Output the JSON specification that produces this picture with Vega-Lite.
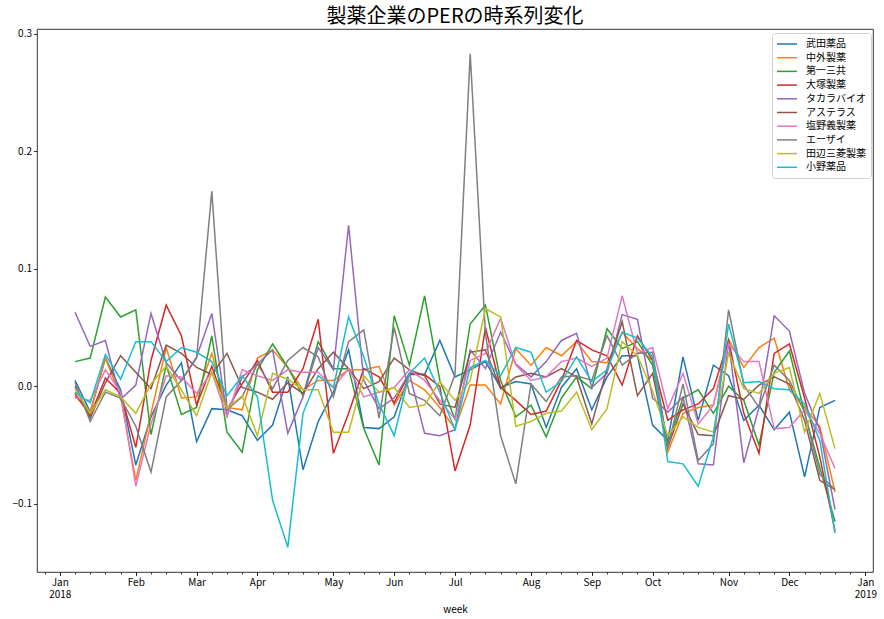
{
"$schema": "https://vega.github.io/schema/vega-lite/v6.json",
"width": 836, "height": 543,
"autosize": {"type": "none"},
"padding": {"left": 37, "top": 29, "right": 11, "bottom": 47},
"background": "white",
"title": {"text": "製薬企業のPERの時系列変化", "fontSize": 20, "font": "Noto Sans CJK JP", "fontWeight": "normal", "color": "black", "offset": 2},
"config": {"view": {"stroke": "black", "strokeWidth": 0.8}, "font": "Noto Sans CJK JP",
 "axis": {"grid": false, "domain": false, "tickColor": "black", "tickWidth": 0.8, "labelColor": "black", "labelFontSize": 10, "labelFont": "Noto Sans CJK JP", "titleFont": "Noto Sans CJK JP", "titleFontSize": 10, "titleFontWeight": "normal", "titleColor": "black"}},
"datasets": {"d": [
{"week":"2018-01-08","company":"武田薬品","PER":0.005},{"week":"2018-01-15","company":"武田薬品","PER":-0.022},{"week":"2018-01-22","company":"武田薬品","PER":0.024},{"week":"2018-01-29","company":"武田薬品","PER":-0.003},{"week":"2018-02-05","company":"武田薬品","PER":-0.067},{"week":"2018-02-12","company":"武田薬品","PER":-0.026},{"week":"2018-02-19","company":"武田薬品","PER":0.001},{"week":"2018-02-26","company":"武田薬品","PER":0.020},{"week":"2018-03-05","company":"武田薬品","PER":-0.047},{"week":"2018-03-12","company":"武田薬品","PER":-0.019},{"week":"2018-03-19","company":"武田薬品","PER":-0.020},{"week":"2018-03-26","company":"武田薬品","PER":-0.025},{"week":"2018-04-02","company":"武田薬品","PER":-0.046},{"week":"2018-04-09","company":"武田薬品","PER":-0.033},{"week":"2018-04-16","company":"武田薬品","PER":0.008},{"week":"2018-04-23","company":"武田薬品","PER":-0.071},{"week":"2018-04-30","company":"武田薬品","PER":-0.030},{"week":"2018-05-07","company":"武田薬品","PER":-0.005},{"week":"2018-05-14","company":"武田薬品","PER":0.031},{"week":"2018-05-21","company":"武田薬品","PER":-0.035},{"week":"2018-05-28","company":"武田薬品","PER":-0.036},{"week":"2018-06-04","company":"武田薬品","PER":-0.026},{"week":"2018-06-11","company":"武田薬品","PER":0.010},{"week":"2018-06-18","company":"武田薬品","PER":0.010},{"week":"2018-06-25","company":"武田薬品","PER":0.039},{"week":"2018-07-02","company":"武田薬品","PER":0.008},{"week":"2018-07-09","company":"武田薬品","PER":0.014},{"week":"2018-07-16","company":"武田薬品","PER":0.021},{"week":"2018-07-23","company":"武田薬品","PER":-0.001},{"week":"2018-07-30","company":"武田薬品","PER":0.004},{"week":"2018-08-06","company":"武田薬品","PER":0.002},{"week":"2018-08-13","company":"武田薬品","PER":-0.035},{"week":"2018-08-20","company":"武田薬品","PER":-0.001},{"week":"2018-08-27","company":"武田薬品","PER":0.015},{"week":"2018-09-03","company":"武田薬品","PER":-0.020},{"week":"2018-09-10","company":"武田薬品","PER":0.008},{"week":"2018-09-17","company":"武田薬品","PER":0.026},{"week":"2018-09-24","company":"武田薬品","PER":0.026},{"week":"2018-10-01","company":"武田薬品","PER":-0.033},{"week":"2018-10-08","company":"武田薬品","PER":-0.046},{"week":"2018-10-15","company":"武田薬品","PER":0.025},{"week":"2018-10-22","company":"武田薬品","PER":-0.029},{"week":"2018-10-29","company":"武田薬品","PER":0.018},{"week":"2018-11-05","company":"武田薬品","PER":0.009},{"week":"2018-11-12","company":"武田薬品","PER":-0.029},{"week":"2018-11-19","company":"武田薬品","PER":-0.016},{"week":"2018-11-26","company":"武田薬品","PER":-0.037},{"week":"2018-12-03","company":"武田薬品","PER":-0.022},{"week":"2018-12-10","company":"武田薬品","PER":-0.077},{"week":"2018-12-17","company":"武田薬品","PER":-0.018},{"week":"2018-12-24","company":"武田薬品","PER":-0.012},
{"week":"2018-01-08","company":"中外製薬","PER":-0.008},{"week":"2018-01-15","company":"中外製薬","PER":-0.022},{"week":"2018-01-22","company":"中外製薬","PER":0.024},{"week":"2018-01-29","company":"中外製薬","PER":-0.009},{"week":"2018-02-05","company":"中外製薬","PER":-0.080},{"week":"2018-02-12","company":"中外製薬","PER":-0.023},{"week":"2018-02-19","company":"中外製薬","PER":0.033},{"week":"2018-02-26","company":"中外製薬","PER":-0.010},{"week":"2018-03-05","company":"中外製薬","PER":-0.009},{"week":"2018-03-12","company":"中外製薬","PER":0.028},{"week":"2018-03-19","company":"中外製薬","PER":-0.018},{"week":"2018-03-26","company":"中外製薬","PER":-0.020},{"week":"2018-04-02","company":"中外製薬","PER":0.024},{"week":"2018-04-09","company":"中外製薬","PER":0.031},{"week":"2018-04-16","company":"中外製薬","PER":0.016},{"week":"2018-04-23","company":"中外製薬","PER":-0.003},{"week":"2018-04-30","company":"中外製薬","PER":0.005},{"week":"2018-05-07","company":"中外製薬","PER":0.005},{"week":"2018-05-14","company":"中外製薬","PER":0.014},{"week":"2018-05-21","company":"中外製薬","PER":0.014},{"week":"2018-05-28","company":"中外製薬","PER":0.017},{"week":"2018-06-04","company":"中外製薬","PER":-0.016},{"week":"2018-06-11","company":"中外製薬","PER":0.005},{"week":"2018-06-18","company":"中外製薬","PER":-0.003},{"week":"2018-06-25","company":"中外製薬","PER":-0.018},{"week":"2018-07-02","company":"中外製薬","PER":-0.036},{"week":"2018-07-09","company":"中外製薬","PER":0.001},{"week":"2018-07-16","company":"中外製薬","PER":0.001},{"week":"2018-07-23","company":"中外製薬","PER":-0.015},{"week":"2018-07-30","company":"中外製薬","PER":0.032},{"week":"2018-08-06","company":"中外製薬","PER":0.018},{"week":"2018-08-13","company":"中外製薬","PER":0.033},{"week":"2018-08-20","company":"中外製薬","PER":0.026},{"week":"2018-08-27","company":"中外製薬","PER":0.038},{"week":"2018-09-03","company":"中外製薬","PER":0.021},{"week":"2018-09-10","company":"中外製薬","PER":0.020},{"week":"2018-09-17","company":"中外製薬","PER":0.046},{"week":"2018-09-24","company":"中外製薬","PER":0.032},{"week":"2018-10-01","company":"中外製薬","PER":0.022},{"week":"2018-10-08","company":"中外製薬","PER":-0.056},{"week":"2018-10-15","company":"中外製薬","PER":-0.023},{"week":"2018-10-22","company":"中外製薬","PER":-0.018},{"week":"2018-10-29","company":"中外製薬","PER":-0.016},{"week":"2018-11-05","company":"中外製薬","PER":0.040},{"week":"2018-11-12","company":"中外製薬","PER":0.016},{"week":"2018-11-19","company":"中外製薬","PER":0.033},{"week":"2018-11-26","company":"中外製薬","PER":0.041},{"week":"2018-12-03","company":"中外製薬","PER":-0.003},{"week":"2018-12-10","company":"中外製薬","PER":-0.018},{"week":"2018-12-17","company":"中外製薬","PER":-0.034},{"week":"2018-12-24","company":"中外製薬","PER":-0.090},
{"week":"2018-01-08","company":"第一三共","PER":0.021},{"week":"2018-01-15","company":"第一三共","PER":0.024},{"week":"2018-01-22","company":"第一三共","PER":0.076},{"week":"2018-01-29","company":"第一三共","PER":0.059},{"week":"2018-02-05","company":"第一三共","PER":0.065},{"week":"2018-02-12","company":"第一三共","PER":-0.041},{"week":"2018-02-19","company":"第一三共","PER":0.018},{"week":"2018-02-26","company":"第一三共","PER":-0.024},{"week":"2018-03-05","company":"第一三共","PER":-0.018},{"week":"2018-03-12","company":"第一三共","PER":0.043},{"week":"2018-03-19","company":"第一三共","PER":-0.039},{"week":"2018-03-26","company":"第一三共","PER":-0.056},{"week":"2018-04-02","company":"第一三共","PER":0.014},{"week":"2018-04-09","company":"第一三共","PER":0.036},{"week":"2018-04-16","company":"第一三共","PER":0.016},{"week":"2018-04-23","company":"第一三共","PER":-0.008},{"week":"2018-04-30","company":"第一三共","PER":0.038},{"week":"2018-05-07","company":"第一三共","PER":0.015},{"week":"2018-05-14","company":"第一三共","PER":0.015},{"week":"2018-05-21","company":"第一三共","PER":-0.036},{"week":"2018-05-28","company":"第一三共","PER":-0.067},{"week":"2018-06-04","company":"第一三共","PER":0.060},{"week":"2018-06-11","company":"第一三共","PER":0.018},{"week":"2018-06-18","company":"第一三共","PER":0.077},{"week":"2018-06-25","company":"第一三共","PER":0.005},{"week":"2018-07-02","company":"第一三共","PER":-0.028},{"week":"2018-07-09","company":"第一三共","PER":0.053},{"week":"2018-07-16","company":"第一三共","PER":0.069},{"week":"2018-07-23","company":"第一三共","PER":0.005},{"week":"2018-07-30","company":"第一三共","PER":-0.026},{"week":"2018-08-06","company":"第一三共","PER":-0.016},{"week":"2018-08-13","company":"第一三共","PER":-0.043},{"week":"2018-08-20","company":"第一三共","PER":-0.010},{"week":"2018-08-27","company":"第一三共","PER":0.008},{"week":"2018-09-03","company":"第一三共","PER":-0.002},{"week":"2018-09-10","company":"第一三共","PER":0.049},{"week":"2018-09-17","company":"第一三共","PER":0.032},{"week":"2018-09-24","company":"第一三共","PER":0.038},{"week":"2018-10-01","company":"第一三共","PER":0.018},{"week":"2018-10-08","company":"第一三共","PER":-0.049},{"week":"2018-10-15","company":"第一三共","PER":-0.010},{"week":"2018-10-22","company":"第一三共","PER":-0.003},{"week":"2018-10-29","company":"第一三共","PER":-0.023},{"week":"2018-11-05","company":"第一三共","PER":0.000},{"week":"2018-11-12","company":"第一三共","PER":-0.012},{"week":"2018-11-19","company":"第一三共","PER":-0.050},{"week":"2018-11-26","company":"第一三共","PER":0.012},{"week":"2018-12-03","company":"第一三共","PER":0.030},{"week":"2018-12-10","company":"第一三共","PER":-0.023},{"week":"2018-12-17","company":"第一三共","PER":-0.069},{"week":"2018-12-24","company":"第一三共","PER":-0.115},
{"week":"2018-01-08","company":"大塚製薬","PER":-0.006},{"week":"2018-01-15","company":"大塚製薬","PER":-0.025},{"week":"2018-01-22","company":"大塚製薬","PER":0.007},{"week":"2018-01-29","company":"大塚製薬","PER":-0.006},{"week":"2018-02-05","company":"大塚製薬","PER":-0.052},{"week":"2018-02-12","company":"大塚製薬","PER":0.022},{"week":"2018-02-19","company":"大塚製薬","PER":0.069},{"week":"2018-02-26","company":"大塚製薬","PER":0.043},{"week":"2018-03-05","company":"大塚製薬","PER":-0.016},{"week":"2018-03-12","company":"大塚製薬","PER":0.017},{"week":"2018-03-19","company":"大塚製薬","PER":-0.020},{"week":"2018-03-26","company":"大塚製薬","PER":0.002},{"week":"2018-04-02","company":"大塚製薬","PER":0.022},{"week":"2018-04-09","company":"大塚製薬","PER":-0.005},{"week":"2018-04-16","company":"大塚製薬","PER":-0.005},{"week":"2018-04-23","company":"大塚製薬","PER":0.015},{"week":"2018-04-30","company":"大塚製薬","PER":0.057},{"week":"2018-05-07","company":"大塚製薬","PER":-0.057},{"week":"2018-05-14","company":"大塚製薬","PER":-0.023},{"week":"2018-05-21","company":"大塚製薬","PER":0.015},{"week":"2018-05-28","company":"大塚製薬","PER":0.008},{"week":"2018-06-04","company":"大塚製薬","PER":-0.014},{"week":"2018-06-11","company":"大塚製薬","PER":0.011},{"week":"2018-06-18","company":"大塚製薬","PER":0.010},{"week":"2018-06-25","company":"大塚製薬","PER":0.000},{"week":"2018-07-02","company":"大塚製薬","PER":-0.072},{"week":"2018-07-09","company":"大塚製薬","PER":-0.033},{"week":"2018-07-16","company":"大塚製薬","PER":0.050},{"week":"2018-07-23","company":"大塚製薬","PER":-0.001},{"week":"2018-07-30","company":"大塚製薬","PER":-0.012},{"week":"2018-08-06","company":"大塚製薬","PER":-0.024},{"week":"2018-08-13","company":"大塚製薬","PER":-0.021},{"week":"2018-08-20","company":"大塚製薬","PER":0.005},{"week":"2018-08-27","company":"大塚製薬","PER":0.039},{"week":"2018-09-03","company":"大塚製薬","PER":0.031},{"week":"2018-09-10","company":"大塚製薬","PER":0.026},{"week":"2018-09-17","company":"大塚製薬","PER":0.001},{"week":"2018-09-24","company":"大塚製薬","PER":0.043},{"week":"2018-10-01","company":"大塚製薬","PER":0.022},{"week":"2018-10-08","company":"大塚製薬","PER":-0.029},{"week":"2018-10-15","company":"大塚製薬","PER":-0.020},{"week":"2018-10-22","company":"大塚製薬","PER":-0.015},{"week":"2018-10-29","company":"大塚製薬","PER":-0.002},{"week":"2018-11-05","company":"大塚製薬","PER":0.039},{"week":"2018-11-12","company":"大塚製薬","PER":-0.023},{"week":"2018-11-19","company":"大塚製薬","PER":-0.057},{"week":"2018-11-26","company":"大塚製薬","PER":0.028},{"week":"2018-12-03","company":"大塚製薬","PER":0.036},{"week":"2018-12-10","company":"大塚製薬","PER":-0.010},{"week":"2018-12-17","company":"大塚製薬","PER":-0.060},{"week":"2018-12-24","company":"大塚製薬","PER":-0.123},
{"week":"2018-01-08","company":"タカラバイオ","PER":0.063},{"week":"2018-01-15","company":"タカラバイオ","PER":0.034},{"week":"2018-01-22","company":"タカラバイオ","PER":0.039},{"week":"2018-01-29","company":"タカラバイオ","PER":-0.011},{"week":"2018-02-05","company":"タカラバイオ","PER":0.001},{"week":"2018-02-12","company":"タカラバイオ","PER":0.062},{"week":"2018-02-19","company":"タカラバイオ","PER":0.020},{"week":"2018-02-26","company":"タカラバイオ","PER":0.005},{"week":"2018-03-05","company":"タカラバイオ","PER":0.025},{"week":"2018-03-12","company":"タカラバイオ","PER":0.062},{"week":"2018-03-19","company":"タカラバイオ","PER":-0.025},{"week":"2018-03-26","company":"タカラバイオ","PER":0.008},{"week":"2018-04-02","company":"タカラバイオ","PER":0.019},{"week":"2018-04-09","company":"タカラバイオ","PER":0.031},{"week":"2018-04-16","company":"タカラバイオ","PER":-0.040},{"week":"2018-04-23","company":"タカラバイオ","PER":-0.009},{"week":"2018-04-30","company":"タカラバイオ","PER":0.033},{"week":"2018-05-07","company":"タカラバイオ","PER":0.014},{"week":"2018-05-14","company":"タカラバイオ","PER":0.137},{"week":"2018-05-21","company":"タカラバイオ","PER":0.005},{"week":"2018-05-28","company":"タカラバイオ","PER":-0.019},{"week":"2018-06-04","company":"タカラバイオ","PER":-0.010},{"week":"2018-06-11","company":"タカラバイオ","PER":0.011},{"week":"2018-06-18","company":"タカラバイオ","PER":-0.040},{"week":"2018-06-25","company":"タカラバイオ","PER":-0.042},{"week":"2018-07-02","company":"タカラバイオ","PER":-0.037},{"week":"2018-07-09","company":"タカラバイオ","PER":0.031},{"week":"2018-07-16","company":"タカラバイオ","PER":0.015},{"week":"2018-07-23","company":"タカラバイオ","PER":0.046},{"week":"2018-07-30","company":"タカラバイオ","PER":0.019},{"week":"2018-08-06","company":"タカラバイオ","PER":0.008},{"week":"2018-08-13","company":"タカラバイオ","PER":0.021},{"week":"2018-08-20","company":"タカラバイオ","PER":0.039},{"week":"2018-08-27","company":"タカラバイオ","PER":0.045},{"week":"2018-09-03","company":"タカラバイオ","PER":-0.001},{"week":"2018-09-10","company":"タカラバイオ","PER":0.011},{"week":"2018-09-17","company":"タカラバイオ","PER":0.061},{"week":"2018-09-24","company":"タカラバイオ","PER":0.057},{"week":"2018-10-01","company":"タカラバイオ","PER":-0.010},{"week":"2018-10-08","company":"タカラバイオ","PER":-0.022},{"week":"2018-10-15","company":"タカラバイオ","PER":-0.009},{"week":"2018-10-22","company":"タカラバイオ","PER":-0.066},{"week":"2018-10-29","company":"タカラバイオ","PER":-0.067},{"week":"2018-11-05","company":"タカラバイオ","PER":0.038},{"week":"2018-11-12","company":"タカラバイオ","PER":-0.065},{"week":"2018-11-19","company":"タカラバイオ","PER":-0.018},{"week":"2018-11-26","company":"タカラバイオ","PER":0.060},{"week":"2018-12-03","company":"タカラバイオ","PER":0.047},{"week":"2018-12-10","company":"タカラバイオ","PER":-0.006},{"week":"2018-12-17","company":"タカラバイオ","PER":-0.037},{"week":"2018-12-24","company":"タカラバイオ","PER":-0.105},
{"week":"2018-01-08","company":"アステラス","PER":0.000},{"week":"2018-01-15","company":"アステラス","PER":-0.027},{"week":"2018-01-22","company":"アステラス","PER":0.003},{"week":"2018-01-29","company":"アステラス","PER":0.026},{"week":"2018-02-05","company":"アステラス","PER":0.012},{"week":"2018-02-12","company":"アステラス","PER":-0.002},{"week":"2018-02-19","company":"アステラス","PER":0.035},{"week":"2018-02-26","company":"アステラス","PER":0.028},{"week":"2018-03-05","company":"アステラス","PER":0.016},{"week":"2018-03-12","company":"アステラス","PER":0.010},{"week":"2018-03-19","company":"アステラス","PER":0.028},{"week":"2018-03-26","company":"アステラス","PER":-0.001},{"week":"2018-04-02","company":"アステラス","PER":-0.005},{"week":"2018-04-09","company":"アステラス","PER":-0.011},{"week":"2018-04-16","company":"アステラス","PER":0.003},{"week":"2018-04-23","company":"アステラス","PER":-0.006},{"week":"2018-04-30","company":"アステラス","PER":0.015},{"week":"2018-05-07","company":"アステラス","PER":0.029},{"week":"2018-05-14","company":"アステラス","PER":0.015},{"week":"2018-05-21","company":"アステラス","PER":-0.002},{"week":"2018-05-28","company":"アステラス","PER":0.004},{"week":"2018-06-04","company":"アステラス","PER":0.024},{"week":"2018-06-11","company":"アステラス","PER":0.014},{"week":"2018-06-18","company":"アステラス","PER":0.009},{"week":"2018-06-25","company":"アステラス","PER":-0.015},{"week":"2018-07-02","company":"アステラス","PER":-0.018},{"week":"2018-07-09","company":"アステラス","PER":0.029},{"week":"2018-07-16","company":"アステラス","PER":0.031},{"week":"2018-07-23","company":"アステラス","PER":-0.002},{"week":"2018-07-30","company":"アステラス","PER":0.008},{"week":"2018-08-06","company":"アステラス","PER":0.011},{"week":"2018-08-13","company":"アステラス","PER":0.008},{"week":"2018-08-20","company":"アステラス","PER":0.015},{"week":"2018-08-27","company":"アステラス","PER":0.008},{"week":"2018-09-03","company":"アステラス","PER":-0.032},{"week":"2018-09-10","company":"アステラス","PER":0.015},{"week":"2018-09-17","company":"アステラス","PER":0.055},{"week":"2018-09-24","company":"アステラス","PER":-0.008},{"week":"2018-10-01","company":"アステラス","PER":0.011},{"week":"2018-10-08","company":"アステラス","PER":-0.052},{"week":"2018-10-15","company":"アステラス","PER":-0.015},{"week":"2018-10-22","company":"アステラス","PER":-0.041},{"week":"2018-10-29","company":"アステラス","PER":-0.042},{"week":"2018-11-05","company":"アステラス","PER":-0.008},{"week":"2018-11-12","company":"アステラス","PER":-0.011},{"week":"2018-11-19","company":"アステラス","PER":0.001},{"week":"2018-11-26","company":"アステラス","PER":0.008},{"week":"2018-12-03","company":"アステラス","PER":0.002},{"week":"2018-12-10","company":"アステラス","PER":-0.029},{"week":"2018-12-17","company":"アステラス","PER":-0.080},{"week":"2018-12-24","company":"アステラス","PER":-0.088},
{"week":"2018-01-08","company":"塩野義製薬","PER":-0.010},{"week":"2018-01-15","company":"塩野義製薬","PER":-0.012},{"week":"2018-01-22","company":"塩野義製薬","PER":0.014},{"week":"2018-01-29","company":"塩野義製薬","PER":-0.005},{"week":"2018-02-05","company":"塩野義製薬","PER":-0.085},{"week":"2018-02-12","company":"塩野義製薬","PER":-0.032},{"week":"2018-02-19","company":"塩野義製薬","PER":0.009},{"week":"2018-02-26","company":"塩野義製薬","PER":0.008},{"week":"2018-03-05","company":"塩野義製薬","PER":-0.006},{"week":"2018-03-12","company":"塩野義製薬","PER":0.012},{"week":"2018-03-19","company":"塩野義製薬","PER":-0.026},{"week":"2018-03-26","company":"塩野義製薬","PER":0.014},{"week":"2018-04-02","company":"塩野義製薬","PER":0.009},{"week":"2018-04-09","company":"塩野義製薬","PER":0.005},{"week":"2018-04-16","company":"塩野義製薬","PER":0.014},{"week":"2018-04-23","company":"塩野義製薬","PER":0.012},{"week":"2018-04-30","company":"塩野義製薬","PER":0.012},{"week":"2018-05-07","company":"塩野義製薬","PER":-0.001},{"week":"2018-05-14","company":"塩野義製薬","PER":0.015},{"week":"2018-05-21","company":"塩野義製薬","PER":-0.009},{"week":"2018-05-28","company":"塩野義製薬","PER":-0.005},{"week":"2018-06-04","company":"塩野義製薬","PER":-0.001},{"week":"2018-06-11","company":"塩野義製薬","PER":0.014},{"week":"2018-06-18","company":"塩野義製薬","PER":0.005},{"week":"2018-06-25","company":"塩野義製薬","PER":-0.012},{"week":"2018-07-02","company":"塩野義製薬","PER":-0.028},{"week":"2018-07-09","company":"塩野義製薬","PER":0.022},{"week":"2018-07-16","company":"塩野義製薬","PER":0.028},{"week":"2018-07-23","company":"塩野義製薬","PER":0.058},{"week":"2018-07-30","company":"塩野義製薬","PER":0.018},{"week":"2018-08-06","company":"塩野義製薬","PER":0.005},{"week":"2018-08-13","company":"塩野義製薬","PER":0.008},{"week":"2018-08-20","company":"塩野義製薬","PER":0.021},{"week":"2018-08-27","company":"塩野義製薬","PER":0.024},{"week":"2018-09-03","company":"塩野義製薬","PER":0.017},{"week":"2018-09-10","company":"塩野義製薬","PER":0.024},{"week":"2018-09-17","company":"塩野義製薬","PER":0.077},{"week":"2018-09-24","company":"塩野義製薬","PER":0.028},{"week":"2018-10-01","company":"塩野義製薬","PER":0.033},{"week":"2018-10-08","company":"塩野義製薬","PER":-0.019},{"week":"2018-10-15","company":"塩野義製薬","PER":0.011},{"week":"2018-10-22","company":"塩野義製薬","PER":-0.032},{"week":"2018-10-29","company":"塩野義製薬","PER":-0.016},{"week":"2018-11-05","company":"塩野義製薬","PER":0.036},{"week":"2018-11-12","company":"塩野義製薬","PER":0.021},{"week":"2018-11-19","company":"塩野義製薬","PER":0.021},{"week":"2018-11-26","company":"塩野義製薬","PER":-0.036},{"week":"2018-12-03","company":"塩野義製薬","PER":-0.035},{"week":"2018-12-10","company":"塩野義製薬","PER":-0.020},{"week":"2018-12-17","company":"塩野義製薬","PER":-0.040},{"week":"2018-12-24","company":"塩野義製薬","PER":-0.070},
{"week":"2018-01-08","company":"エーザイ","PER":0.003},{"week":"2018-01-15","company":"エーザイ","PER":-0.030},{"week":"2018-01-22","company":"エーザイ","PER":-0.005},{"week":"2018-01-29","company":"エーザイ","PER":-0.010},{"week":"2018-02-05","company":"エーザイ","PER":-0.034},{"week":"2018-02-12","company":"エーザイ","PER":-0.073},{"week":"2018-02-19","company":"エーザイ","PER":-0.009},{"week":"2018-02-26","company":"エーザイ","PER":0.005},{"week":"2018-03-05","company":"エーザイ","PER":0.024},{"week":"2018-03-12","company":"エーザイ","PER":0.166},{"week":"2018-03-19","company":"エーザイ","PER":-0.020},{"week":"2018-03-26","company":"エーザイ","PER":-0.009},{"week":"2018-04-02","company":"エーザイ","PER":0.019},{"week":"2018-04-09","company":"エーザイ","PER":-0.002},{"week":"2018-04-16","company":"エーザイ","PER":0.022},{"week":"2018-04-23","company":"エーザイ","PER":0.033},{"week":"2018-04-30","company":"エーザイ","PER":0.025},{"week":"2018-05-07","company":"エーザイ","PER":-0.009},{"week":"2018-05-14","company":"エーザイ","PER":0.038},{"week":"2018-05-21","company":"エーザイ","PER":0.048},{"week":"2018-05-28","company":"エーザイ","PER":-0.027},{"week":"2018-06-04","company":"エーザイ","PER":0.050},{"week":"2018-06-11","company":"エーザイ","PER":-0.006},{"week":"2018-06-18","company":"エーザイ","PER":-0.012},{"week":"2018-06-25","company":"エーザイ","PER":-0.025},{"week":"2018-07-02","company":"エーザイ","PER":0.010},{"week":"2018-07-09","company":"エーザイ","PER":0.283},{"week":"2018-07-16","company":"エーザイ","PER":0.045},{"week":"2018-07-23","company":"エーザイ","PER":-0.042},{"week":"2018-07-30","company":"エーザイ","PER":-0.083},{"week":"2018-08-06","company":"エーザイ","PER":0.002},{"week":"2018-08-13","company":"エーザイ","PER":-0.013},{"week":"2018-08-20","company":"エーザイ","PER":0.008},{"week":"2018-08-27","company":"エーザイ","PER":0.009},{"week":"2018-09-03","company":"エーザイ","PER":0.005},{"week":"2018-09-10","company":"エーザイ","PER":0.043},{"week":"2018-09-17","company":"エーザイ","PER":0.018},{"week":"2018-09-24","company":"エーザイ","PER":0.028},{"week":"2018-10-01","company":"エーザイ","PER":0.029},{"week":"2018-10-08","company":"エーザイ","PER":-0.052},{"week":"2018-10-15","company":"エーザイ","PER":0.002},{"week":"2018-10-22","company":"エーザイ","PER":-0.063},{"week":"2018-10-29","company":"エーザイ","PER":-0.049},{"week":"2018-11-05","company":"エーザイ","PER":0.065},{"week":"2018-11-12","company":"エーザイ","PER":0.001},{"week":"2018-11-19","company":"エーザイ","PER":-0.018},{"week":"2018-11-26","company":"エーザイ","PER":0.018},{"week":"2018-12-03","company":"エーザイ","PER":0.005},{"week":"2018-12-10","company":"エーザイ","PER":-0.022},{"week":"2018-12-17","company":"エーザイ","PER":-0.075},{"week":"2018-12-24","company":"エーザイ","PER":-0.088},
{"week":"2018-01-08","company":"田辺三菱製薬","PER":-0.002},{"week":"2018-01-15","company":"田辺三菱製薬","PER":-0.023},{"week":"2018-01-22","company":"田辺三菱製薬","PER":-0.003},{"week":"2018-01-29","company":"田辺三菱製薬","PER":-0.009},{"week":"2018-02-05","company":"田辺三菱製薬","PER":-0.023},{"week":"2018-02-12","company":"田辺三菱製薬","PER":0.002},{"week":"2018-02-19","company":"田辺三菱製薬","PER":0.017},{"week":"2018-02-26","company":"田辺三菱製薬","PER":-0.003},{"week":"2018-03-05","company":"田辺三菱製薬","PER":-0.025},{"week":"2018-03-12","company":"田辺三菱製薬","PER":0.012},{"week":"2018-03-19","company":"田辺三菱製薬","PER":-0.019},{"week":"2018-03-26","company":"田辺三菱製薬","PER":-0.008},{"week":"2018-04-02","company":"田辺三菱製薬","PER":-0.042},{"week":"2018-04-09","company":"田辺三菱製薬","PER":0.011},{"week":"2018-04-16","company":"田辺三菱製薬","PER":0.006},{"week":"2018-04-23","company":"田辺三菱製薬","PER":-0.003},{"week":"2018-04-30","company":"田辺三菱製薬","PER":-0.003},{"week":"2018-05-07","company":"田辺三菱製薬","PER":-0.039},{"week":"2018-05-14","company":"田辺三菱製薬","PER":-0.039},{"week":"2018-05-21","company":"田辺三菱製薬","PER":0.009},{"week":"2018-05-28","company":"田辺三菱製薬","PER":-0.005},{"week":"2018-06-04","company":"田辺三菱製薬","PER":-0.001},{"week":"2018-06-11","company":"田辺三菱製薬","PER":-0.018},{"week":"2018-06-18","company":"田辺三菱製薬","PER":-0.016},{"week":"2018-06-25","company":"田辺三菱製薬","PER":0.004},{"week":"2018-07-02","company":"田辺三菱製薬","PER":-0.012},{"week":"2018-07-09","company":"田辺三菱製薬","PER":0.005},{"week":"2018-07-16","company":"田辺三菱製薬","PER":0.066},{"week":"2018-07-23","company":"田辺三菱製薬","PER":0.059},{"week":"2018-07-30","company":"田辺三菱製薬","PER":-0.034},{"week":"2018-08-06","company":"田辺三菱製薬","PER":-0.030},{"week":"2018-08-13","company":"田辺三菱製薬","PER":-0.023},{"week":"2018-08-20","company":"田辺三菱製薬","PER":-0.021},{"week":"2018-08-27","company":"田辺三菱製薬","PER":-0.005},{"week":"2018-09-03","company":"田辺三菱製薬","PER":-0.037},{"week":"2018-09-10","company":"田辺三菱製薬","PER":-0.019},{"week":"2018-09-17","company":"田辺三菱製薬","PER":0.038},{"week":"2018-09-24","company":"田辺三菱製薬","PER":0.026},{"week":"2018-10-01","company":"田辺三菱製薬","PER":-0.004},{"week":"2018-10-08","company":"田辺三菱製薬","PER":-0.042},{"week":"2018-10-15","company":"田辺三菱製薬","PER":-0.026},{"week":"2018-10-22","company":"田辺三菱製薬","PER":-0.035},{"week":"2018-10-29","company":"田辺三菱製薬","PER":-0.039},{"week":"2018-11-05","company":"田辺三菱製薬","PER":0.028},{"week":"2018-11-12","company":"田辺三菱製薬","PER":-0.002},{"week":"2018-11-19","company":"田辺三菱製薬","PER":-0.006},{"week":"2018-11-26","company":"田辺三菱製薬","PER":0.011},{"week":"2018-12-03","company":"田辺三菱製薬","PER":0.016},{"week":"2018-12-10","company":"田辺三菱製薬","PER":-0.039},{"week":"2018-12-17","company":"田辺三菱製薬","PER":-0.006},{"week":"2018-12-24","company":"田辺三菱製薬","PER":-0.053},
{"week":"2018-01-08","company":"小野薬品","PER":-0.005},{"week":"2018-01-15","company":"小野薬品","PER":-0.014},{"week":"2018-01-22","company":"小野薬品","PER":0.027},{"week":"2018-01-29","company":"小野薬品","PER":0.006},{"week":"2018-02-05","company":"小野薬品","PER":0.038},{"week":"2018-02-12","company":"小野薬品","PER":0.038},{"week":"2018-02-19","company":"小野薬品","PER":0.021},{"week":"2018-02-26","company":"小野薬品","PER":0.033},{"week":"2018-03-05","company":"小野薬品","PER":0.029},{"week":"2018-03-12","company":"小野薬品","PER":0.021},{"week":"2018-03-19","company":"小野薬品","PER":-0.008},{"week":"2018-03-26","company":"小野薬品","PER":0.009},{"week":"2018-04-02","company":"小野薬品","PER":-0.009},{"week":"2018-04-09","company":"小野薬品","PER":-0.097},{"week":"2018-04-16","company":"小野薬品","PER":-0.137},{"week":"2018-04-23","company":"小野薬品","PER":-0.023},{"week":"2018-04-30","company":"小野薬品","PER":0.009},{"week":"2018-05-07","company":"小野薬品","PER":-0.001},{"week":"2018-05-14","company":"小野薬品","PER":0.059},{"week":"2018-05-21","company":"小野薬品","PER":0.025},{"week":"2018-05-28","company":"小野薬品","PER":-0.015},{"week":"2018-06-04","company":"小野薬品","PER":-0.042},{"week":"2018-06-11","company":"小野薬品","PER":0.011},{"week":"2018-06-18","company":"小野薬品","PER":0.024},{"week":"2018-06-25","company":"小野薬品","PER":-0.005},{"week":"2018-07-02","company":"小野薬品","PER":-0.037},{"week":"2018-07-09","company":"小野薬品","PER":0.016},{"week":"2018-07-16","company":"小野薬品","PER":0.022},{"week":"2018-07-23","company":"小野薬品","PER":0.009},{"week":"2018-07-30","company":"小野薬品","PER":0.033},{"week":"2018-08-06","company":"小野薬品","PER":0.029},{"week":"2018-08-13","company":"小野薬品","PER":-0.005},{"week":"2018-08-20","company":"小野薬品","PER":0.004},{"week":"2018-08-27","company":"小野薬品","PER":0.025},{"week":"2018-09-03","company":"小野薬品","PER":0.004},{"week":"2018-09-10","company":"小野薬品","PER":0.014},{"week":"2018-09-17","company":"小野薬品","PER":0.046},{"week":"2018-09-24","company":"小野薬品","PER":0.041},{"week":"2018-10-01","company":"小野薬品","PER":0.025},{"week":"2018-10-08","company":"小野薬品","PER":-0.064},{"week":"2018-10-15","company":"小野薬品","PER":-0.066},{"week":"2018-10-22","company":"小野薬品","PER":-0.085},{"week":"2018-10-29","company":"小野薬品","PER":-0.043},{"week":"2018-11-05","company":"小野薬品","PER":0.053},{"week":"2018-11-12","company":"小野薬品","PER":0.003},{"week":"2018-11-19","company":"小野薬品","PER":0.004},{"week":"2018-11-26","company":"小野薬品","PER":-0.002},{"week":"2018-12-03","company":"小野薬品","PER":-0.003},{"week":"2018-12-10","company":"小野薬品","PER":-0.015},{"week":"2018-12-17","company":"小野薬品","PER":-0.046},{"week":"2018-12-24","company":"小野薬品","PER":-0.125}
]},
"data": {"name": "d"},
"layer": [
 {"mark": {"type": "line", "strokeWidth": 1.5},
  "encoding": {
   "x": {"field": "week", "type": "temporal",
    "scale": {"type": "utc", "domain": [{"year":2017,"month":12,"date":21,"hours":12,"utc":true},{"year":2019,"month":1,"date":10,"hours":12,"utc":true}]},
    "axis": {"orient": "bottom", "values": [{"year":2018,"month":1,"date":1,"utc":true},{"year":2018,"month":2,"date":5,"utc":true},{"year":2018,"month":3,"date":5,"utc":true},{"year":2018,"month":4,"date":2,"utc":true},{"year":2018,"month":5,"date":7,"utc":true},{"year":2018,"month":6,"date":4,"utc":true},{"year":2018,"month":7,"date":2,"utc":true},{"year":2018,"month":8,"date":6,"utc":true},{"year":2018,"month":9,"date":3,"utc":true},{"year":2018,"month":10,"date":1,"utc":true},{"year":2018,"month":11,"date":5,"utc":true},{"year":2018,"month":12,"date":3,"utc":true},{"year":2019,"month":1,"date":7,"utc":true}],
     "tickSize": 3.5, "labelPadding": 2, "labelLineHeight": 12, "labelFlush": false, "labelOverlap": false,
     "labelExpr": "utcmonth(datum.value) == 0 ? [utcFormat(datum.value, '%b'), utcFormat(datum.value, '%Y')] : utcFormat(datum.value, '%b')",
     "title": "week", "titlePadding": 5}},
   "y": {"field": "PER", "type": "quantitative",
    "scale": {"domain": [-0.158, 0.304], "nice": false, "zero": false},
    "axis": {"values": [-0.1, 0, 0.1, 0.2, 0.3], "tickSize": 3.5, "labelPadding": 2, "labelExpr": "replace(format(datum.value, '.1f'), '-', '−')", "title": null}},
   "color": {"field": "company", "type": "nominal",
    "scale": {"domain": ["武田薬品","中外製薬","第一三共","大塚製薬","タカラバイオ","アステラス","塩野義製薬","エーザイ","田辺三菱製薬","小野薬品"],
              "range": ["#1f77b4","#ff7f0e","#2ca02c","#d62728","#9467bd","#8c564b","#e377c2","#7f7f7f","#bcbd22","#17becf"]},
    "legend": {"title": null, "orient": "none", "legendX": 735, "legendY": 4, "symbolType": "M-2,0H2", "symbolSize": 100, "symbolStrokeWidth": 1.5, "labelFontSize": 10, "labelFont": "Noto Sans CJK JP", "labelColor": "black", "padding": 5, "strokeColor": "#d0d0d0", "fillColor": "white", "cornerRadius": 3, "rowPadding": 2.7, "symbolOffset": 4, "labelOffset": 13}}
  }},
 {"mark": {"type": "point", "opacity": 0},
  "encoding": {
   "x": {"field": "week", "type": "temporal",
    "axis": {"orient": "bottom", "values": [{"year":2017,"month":12,"date":25,"utc":true},{"year":2018,"month":1,"date":1,"utc":true},{"year":2018,"month":1,"date":8,"utc":true},{"year":2018,"month":1,"date":15,"utc":true},{"year":2018,"month":1,"date":22,"utc":true},{"year":2018,"month":1,"date":29,"utc":true},{"year":2018,"month":2,"date":5,"utc":true},{"year":2018,"month":2,"date":12,"utc":true},{"year":2018,"month":2,"date":19,"utc":true},{"year":2018,"month":2,"date":26,"utc":true},{"year":2018,"month":3,"date":5,"utc":true},{"year":2018,"month":3,"date":12,"utc":true},{"year":2018,"month":3,"date":19,"utc":true},{"year":2018,"month":3,"date":26,"utc":true},{"year":2018,"month":4,"date":2,"utc":true},{"year":2018,"month":4,"date":9,"utc":true},{"year":2018,"month":4,"date":16,"utc":true},{"year":2018,"month":4,"date":23,"utc":true},{"year":2018,"month":4,"date":30,"utc":true},{"year":2018,"month":5,"date":7,"utc":true},{"year":2018,"month":5,"date":14,"utc":true},{"year":2018,"month":5,"date":21,"utc":true},{"year":2018,"month":5,"date":28,"utc":true},{"year":2018,"month":6,"date":4,"utc":true},{"year":2018,"month":6,"date":11,"utc":true},{"year":2018,"month":6,"date":18,"utc":true},{"year":2018,"month":6,"date":25,"utc":true},{"year":2018,"month":7,"date":2,"utc":true},{"year":2018,"month":7,"date":9,"utc":true},{"year":2018,"month":7,"date":16,"utc":true},{"year":2018,"month":7,"date":23,"utc":true},{"year":2018,"month":7,"date":30,"utc":true},{"year":2018,"month":8,"date":6,"utc":true},{"year":2018,"month":8,"date":13,"utc":true},{"year":2018,"month":8,"date":20,"utc":true},{"year":2018,"month":8,"date":27,"utc":true},{"year":2018,"month":9,"date":3,"utc":true},{"year":2018,"month":9,"date":10,"utc":true},{"year":2018,"month":9,"date":17,"utc":true},{"year":2018,"month":9,"date":24,"utc":true},{"year":2018,"month":10,"date":1,"utc":true},{"year":2018,"month":10,"date":8,"utc":true},{"year":2018,"month":10,"date":15,"utc":true},{"year":2018,"month":10,"date":22,"utc":true},{"year":2018,"month":10,"date":29,"utc":true},{"year":2018,"month":11,"date":5,"utc":true},{"year":2018,"month":11,"date":12,"utc":true},{"year":2018,"month":11,"date":19,"utc":true},{"year":2018,"month":11,"date":26,"utc":true},{"year":2018,"month":12,"date":3,"utc":true},{"year":2018,"month":12,"date":10,"utc":true},{"year":2018,"month":12,"date":17,"utc":true},{"year":2018,"month":12,"date":24,"utc":true},{"year":2018,"month":12,"date":31,"utc":true},{"year":2019,"month":1,"date":7,"utc":true}],
     "tickSize": 2, "labels": false, "title": null}},
   "y": {"field": "PER", "type": "quantitative", "axis": null}}}
],
"resolve": {"axis": {"x": "independent", "y": "independent"}}
}
